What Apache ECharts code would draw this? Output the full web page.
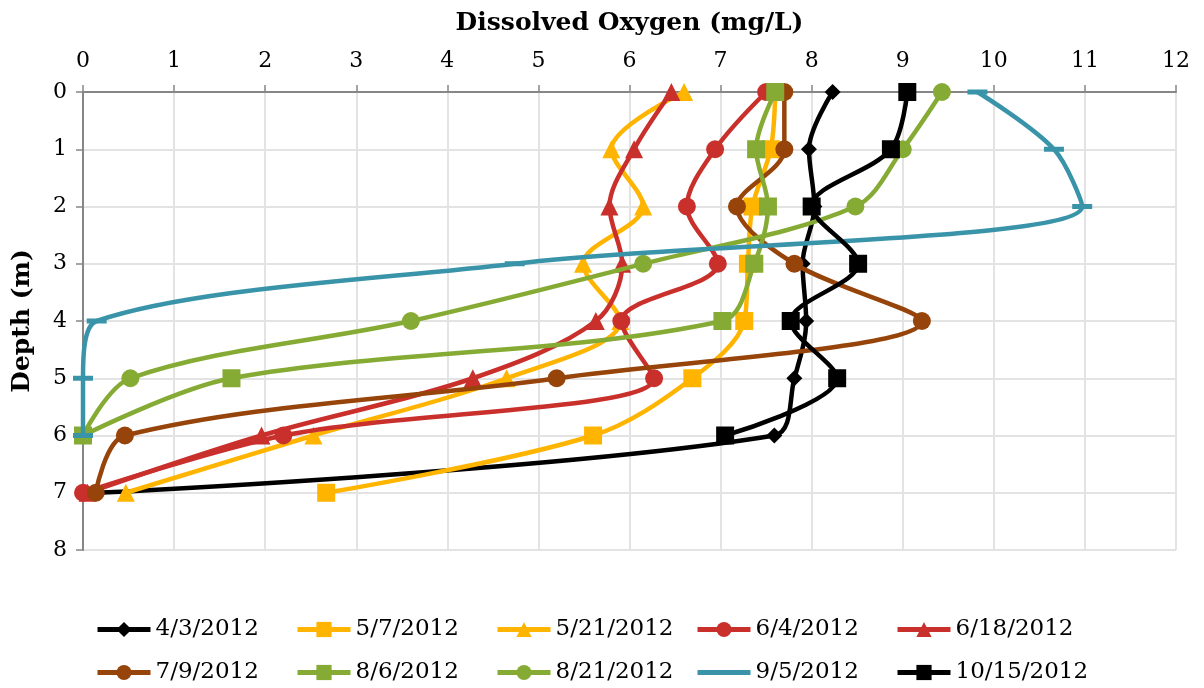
<!DOCTYPE html>
<html>
<head>
<meta charset="utf-8">
<title>Dissolved Oxygen Profiles</title>
<script src="https://cdn.jsdelivr.net/npm/echarts@6/dist/echarts.min.js"></script>
<style>
  html, body { margin: 0; padding: 0; background: #ffffff; }
  #chart { width: 1204px; height: 688px; }
</style>
</head>
<body>
<div id="chart"></div>
<script>
// Depth of each sample (m)
const depths = [0, 1, 2, 3, 4, 5, 6, 7];

// Sampling dates (series names)
const dates = ['4/3/2012', '5/7/2012', '5/21/2012', '6/4/2012', '6/18/2012',
               '7/9/2012', '8/6/2012', '8/21/2012', '9/5/2012', '10/15/2012'];

// Dissolved oxygen (mg/L) at each depth, one array per sampling date
const do_0403 = [8.23, 7.97, 8.03, 7.90, 7.94, 7.81, 7.59, 0.15];
const do_0507 = [7.60, 7.55, 7.35, 7.30, 7.26, 6.69, 5.60, 2.67];
const do_0521 = [6.60, 5.80, 6.15, 5.49, 5.90, 4.65, 2.53, 0.47];
const do_0604 = [7.50, 6.94, 6.63, 6.97, 5.91, 6.27, 2.20, 0.00];
const do_0618 = [6.46, 6.05, 5.78, 5.92, 5.63, 4.28, 1.96, 0.05];
const do_0709 = [7.70, 7.70, 7.18, 7.81, 9.21, 5.20, 0.46, 0.14];
const do_0806 = [7.60, 7.39, 7.52, 7.37, 7.02, 1.63, 0.00];
const do_0821 = [9.43, 9.00, 8.48, 6.15, 3.60, 0.52, 0.00];
const do_0905 = [9.82, 10.66, 10.97, 4.74, 0.15, 0.00, 0.00];
const do_1015 = [9.05, 8.87, 8.00, 8.51, 7.77, 8.28, 7.05];

// Axis ticks
const doTicks = [0, 1, 2, 3, 4, 5, 6, 7, 8, 9, 10, 11, 12];
const depthTicks = [0, 1, 2, 3, 4, 5, 6, 7, 8];

const profiles = [do_0403, do_0507, do_0521, do_0604, do_0618,
                  do_0709, do_0806, do_0821, do_0905, do_1015];

// Marker / colour style for each date
const styles = [
  { color: '#000000', symbol: 'diamond',  size: 16 },
  { color: '#FFB400', symbol: 'rect',     size: 18 },
  { color: '#FFB400', symbol: 'triangle', size: 18 },
  { color: '#C9302C', symbol: 'circle',   size: 18 },
  { color: '#C9302C', symbol: 'triangle', size: 18 },
  { color: '#96440A', symbol: 'circle',   size: 18 },
  { color: '#86AB35', symbol: 'rect',     size: 18 },
  { color: '#86AB35', symbol: 'circle',   size: 18 },
  { color: '#3A94A9', symbol: 'rect',     size: [20, 5] },
  { color: '#000000', symbol: 'rect',     size: 18 }
];

const FONT = '"DejaVu Serif", "Liberation Serif", serif';

const series = dates.map((name, i) => ({
  name: name,
  type: 'line',
  smooth: 0.33,
  symbol: styles[i].symbol,
  symbolSize: styles[i].size,
  showAllSymbol: true,
  color: styles[i].color,
  lineStyle: { width: 4.5, color: styles[i].color },
  itemStyle: { color: styles[i].color },
  emphasis: { disabled: true },
  z: 2 + i,
  data: profiles[i].map((v, k) => [v, depths[k]])
}));

// One legend block per date, laid out in two rows of five
const legends = dates.map((name, i) => {
  const col = i % 5, row = Math.floor(i / 5);
  const isDash = i === 8;
  return {
    data: [isDash ? { name: name, itemStyle: { opacity: 0 } } : name],
    left: 95 + col * 200,
    top: row === 0 ? 618 : 661,
    padding: 0,
    itemWidth: 53,
    itemHeight: 19,
    itemGap: 4,
    selectedMode: false,
    lineStyle: { width: 5 },
    textStyle: { fontFamily: FONT, fontSize: 23, color: '#000' }
  };
});

const chart = echarts.init(document.getElementById('chart'), null, { renderer: 'canvas' });
chart.setOption({
  animation: false,
  backgroundColor: '#ffffff',
  grid: { left: 83, right: 28, top: 92, bottom: 138, containLabel: false },
  legend: legends,
  xAxis: {
    type: 'value',
    position: 'top',
    min: doTicks[0],
    max: doTicks[doTicks.length - 1],
    interval: 1,
    name: 'Dissolved Oxygen (mg/L)',
    nameLocation: 'middle',
    nameGap: 56,
    nameTextStyle: { fontFamily: FONT, fontSize: 25, fontWeight: 'bold', color: '#000' },
    axisLine: { show: true, lineStyle: { color: '#868686', width: 2 } },
    axisTick: { show: true, inside: false, length: 7, lineStyle: { color: '#868686', width: 1.5 } },
    axisLabel: { fontFamily: FONT, fontSize: 22, color: '#000', margin: 20 },
    splitLine: { show: true, lineStyle: { color: '#E3E3E3', width: 2 } }
  },
  yAxis: {
    type: 'value',
    inverse: true,
    min: depthTicks[0],
    max: depthTicks[depthTicks.length - 1],
    interval: 1,
    name: 'Depth (m)',
    nameLocation: 'middle',
    nameGap: 48,
    nameRotate: 90,
    nameTextStyle: { fontFamily: FONT, fontSize: 25, fontWeight: 'bold', color: '#000' },
    axisLine: { show: true, onZero: false, lineStyle: { color: '#868686', width: 2 } },
    axisTick: { show: true, inside: false, length: 7, lineStyle: { color: '#868686', width: 1.5 } },
    axisLabel: { fontFamily: FONT, fontSize: 22, color: '#000', margin: 16 },
    splitLine: { show: true, lineStyle: { color: '#E3E3E3', width: 2 } }
  },
  series: series
});
</script>
</body>
</html>
